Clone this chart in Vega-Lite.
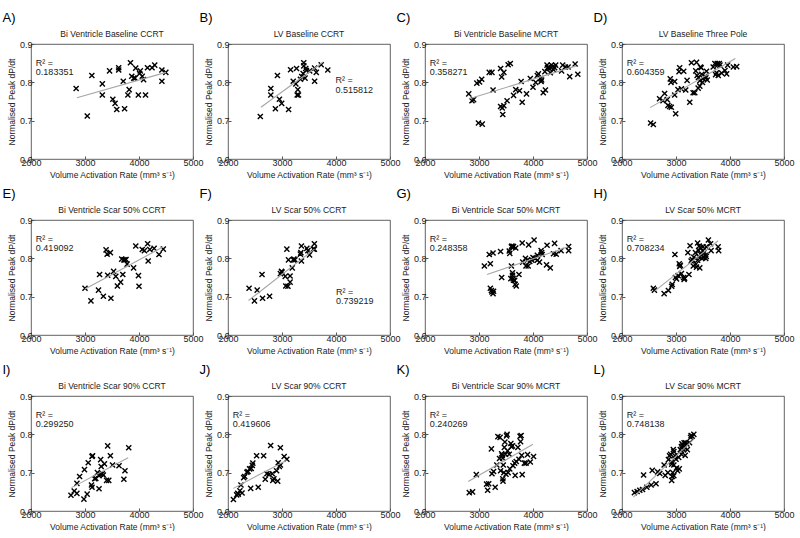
{
"$schema": "https://vega.github.io/schema/vega-lite/v6.json",
"padding": {"left": 2, "top": 11, "right": 0, "bottom": 0},
"columns": 4,
"bounds": "flush",
"spacing": {"row": 61, "column": 35},
"datasets": {
"info": [
{"p":"A","name":"Bi Ventricle Baseline CCRT","r2":"R² =\n0.183351"},
{"p":"B","name":"LV Baseline CCRT","r2":"R² =\n0.515812"},
{"p":"C","name":"Bi Ventricle Baseline MCRT","r2":"R² =\n0.358271"},
{"p":"D","name":"LV Baseline Three Pole","r2":"R² =\n0.604359"},
{"p":"E","name":"Bi Ventricle Scar 50% CCRT","r2":"R² =\n0.419092"},
{"p":"F","name":"LV Scar 50% CCRT","r2":"R² =\n0.739219"},
{"p":"G","name":"Bi Ventricle Scar 50% MCRT","r2":"R² =\n0.248358"},
{"p":"H","name":"LV Scar 50% MCRT","r2":"R² =\n0.708234"},
{"p":"I","name":"Bi Ventricle Scar 90% CCRT","r2":"R² =\n0.299250"},
{"p":"J","name":"LV Scar 90% CCRT","r2":"R² =\n0.419606"},
{"p":"K","name":"Bi Ventricle Scar 90% MCRT","r2":"R² =\n0.240269"},
{"p":"L","name":"LV Scar 90% MCRT","r2":"R² =\n0.748138"}
],
"fit": [
{"p":"A","x":2850,"y":0.760},{"p":"A","x":4500,"y":0.826},
{"p":"B","x":2610,"y":0.735},{"p":"B","x":3760,"y":0.853},
{"p":"C","x":2820,"y":0.757},{"p":"C","x":4800,"y":0.843},
{"p":"D","x":2520,"y":0.734},{"p":"D","x":4100,"y":0.862},
{"p":"E","x":3000,"y":0.720},{"p":"E","x":4450,"y":0.830},
{"p":"F","x":2380,"y":0.690},{"p":"F","x":3600,"y":0.824},
{"p":"G","x":3150,"y":0.758},{"p":"G","x":4650,"y":0.830},
{"p":"H","x":2610,"y":0.715},{"p":"H","x":3780,"y":0.846},
{"p":"I","x":2750,"y":0.661},{"p":"I","x":3800,"y":0.739},
{"p":"J","x":2100,"y":0.659},{"p":"J","x":3080,"y":0.732},
{"p":"K","x":2800,"y":0.677},{"p":"K","x":4000,"y":0.774},
{"p":"L","x":2210,"y":0.636},{"p":"L","x":3320,"y":0.786}
],
"A": [
{"x":2836,"y":0.784},{"x":3127,"y":0.818},{"x":3321,"y":0.796},{"x":3321,"y":0.767},{"x":3455,"y":0.830},{"x":3042,"y":0.712},{"x":3515,"y":0.756},{"x":3557,"y":0.745},{"x":3588,"y":0.729},{"x":3624,"y":0.838},{"x":3624,"y":0.832},{"x":3709,"y":0.803},{"x":3733,"y":0.731},{"x":3794,"y":0.767},{"x":3818,"y":0.781},{"x":3842,"y":0.851},{"x":3866,"y":0.816},{"x":3903,"y":0.811},{"x":3927,"y":0.811},{"x":3939,"y":0.837},{"x":3988,"y":0.767},{"x":4012,"y":0.823},{"x":4024,"y":0.830},{"x":4060,"y":0.816},{"x":4085,"y":0.807},{"x":4121,"y":0.767},{"x":4157,"y":0.838},{"x":4242,"y":0.838},{"x":4291,"y":0.845},{"x":4424,"y":0.832},{"x":4424,"y":0.803},{"x":4497,"y":0.826}
],
"B": [
{"x":2598,"y":0.711},{"x":2793,"y":0.784},{"x":2793,"y":0.767},{"x":2878,"y":0.731},{"x":2915,"y":0.818},{"x":2952,"y":0.756},{"x":2994,"y":0.745},{"x":3122,"y":0.729},{"x":3159,"y":0.833},{"x":3208,"y":0.803},{"x":3257,"y":0.796},{"x":3269,"y":0.836},{"x":3281,"y":0.767},{"x":3305,"y":0.767},{"x":3293,"y":0.781},{"x":3342,"y":0.808},{"x":3366,"y":0.815},{"x":3391,"y":0.823},{"x":3403,"y":0.851},{"x":3403,"y":0.843},{"x":3427,"y":0.811},{"x":3440,"y":0.836},{"x":3452,"y":0.831},{"x":3513,"y":0.830},{"x":3604,"y":0.837},{"x":3604,"y":0.803},{"x":3635,"y":0.826},{"x":3726,"y":0.846},{"x":3848,"y":0.832}
],
"C": [
{"x":2810,"y":0.770},{"x":2870,"y":0.752},{"x":2900,"y":0.755},{"x":2960,"y":0.798},{"x":3010,"y":0.801},{"x":3050,"y":0.808},{"x":2990,"y":0.694},{"x":3060,"y":0.691},{"x":3190,"y":0.826},{"x":3240,"y":0.826},{"x":3260,"y":0.780},{"x":3400,"y":0.836},{"x":3420,"y":0.814},{"x":3460,"y":0.826},{"x":3400,"y":0.737},{"x":3430,"y":0.733},{"x":3460,"y":0.739},{"x":3440,"y":0.716},{"x":3520,"y":0.752},{"x":3540,"y":0.846},{"x":3580,"y":0.849},{"x":3640,"y":0.766},{"x":3680,"y":0.781},{"x":3750,"y":0.778},{"x":3780,"y":0.802},{"x":3800,"y":0.748},{"x":3880,"y":0.770},{"x":3950,"y":0.810},{"x":4000,"y":0.787},{"x":4050,"y":0.800},{"x":4080,"y":0.818},{"x":4100,"y":0.822},{"x":4140,"y":0.810},{"x":4160,"y":0.806},{"x":4150,"y":0.802},{"x":4190,"y":0.773},{"x":4230,"y":0.780},{"x":4220,"y":0.828},{"x":4260,"y":0.845},{"x":4270,"y":0.838},{"x":4290,"y":0.840},{"x":4320,"y":0.825},{"x":4340,"y":0.845},{"x":4370,"y":0.842},{"x":4380,"y":0.833},{"x":4400,"y":0.838},{"x":4420,"y":0.845},{"x":4300,"y":0.836},{"x":4530,"y":0.830},{"x":4550,"y":0.845},{"x":4600,"y":0.840},{"x":4650,"y":0.840},{"x":4680,"y":0.815},{"x":4780,"y":0.848},{"x":4830,"y":0.821}
],
"D": [
{"x":2530,"y":0.694},{"x":2580,"y":0.690},{"x":2696,"y":0.757},{"x":2758,"y":0.752},{"x":2789,"y":0.771},{"x":2838,"y":0.755},{"x":2851,"y":0.740},{"x":2882,"y":0.737},{"x":2894,"y":0.809},{"x":2907,"y":0.800},{"x":2913,"y":0.735},{"x":2975,"y":0.802},{"x":2975,"y":0.767},{"x":2994,"y":0.718},{"x":3037,"y":0.781},{"x":3056,"y":0.828},{"x":3068,"y":0.838},{"x":3100,"y":0.783},{"x":3143,"y":0.829},{"x":3180,"y":0.780},{"x":3205,"y":0.805},{"x":3255,"y":0.748},{"x":3286,"y":0.851},{"x":3317,"y":0.773},{"x":3348,"y":0.773},{"x":3366,"y":0.830},{"x":3380,"y":0.852},{"x":3391,"y":0.818},{"x":3410,"y":0.785},{"x":3416,"y":0.813},{"x":3441,"y":0.804},{"x":3441,"y":0.790},{"x":3453,"y":0.840},{"x":3466,"y":0.838},{"x":3478,"y":0.821},{"x":3490,"y":0.800},{"x":3503,"y":0.810},{"x":3540,"y":0.816},{"x":3553,"y":0.812},{"x":3565,"y":0.829},{"x":3578,"y":0.806},{"x":3689,"y":0.840},{"x":3720,"y":0.849},{"x":3733,"y":0.820},{"x":3751,"y":0.825},{"x":3764,"y":0.849},{"x":3770,"y":0.845},{"x":3782,"y":0.818},{"x":3801,"y":0.849},{"x":3814,"y":0.845},{"x":3845,"y":0.824},{"x":3907,"y":0.831},{"x":3938,"y":0.822},{"x":3957,"y":0.845},{"x":4062,"y":0.840},{"x":4124,"y":0.841}
],
"E": [
{"x":3000,"y":0.722},{"x":3110,"y":0.689},{"x":3250,"y":0.717},{"x":3270,"y":0.758},{"x":3340,"y":0.701},{"x":3390,"y":0.822},{"x":3410,"y":0.811},{"x":3420,"y":0.756},{"x":3470,"y":0.815},{"x":3480,"y":0.696},{"x":3530,"y":0.766},{"x":3570,"y":0.753},{"x":3600,"y":0.728},{"x":3660,"y":0.738},{"x":3680,"y":0.798},{"x":3700,"y":0.758},{"x":3720,"y":0.796},{"x":3740,"y":0.796},{"x":3760,"y":0.797},{"x":3780,"y":0.785},{"x":3900,"y":0.775},{"x":3940,"y":0.832},{"x":3990,"y":0.755},{"x":4000,"y":0.727},{"x":4060,"y":0.823},{"x":4100,"y":0.820},{"x":4160,"y":0.838},{"x":4170,"y":0.793},{"x":4200,"y":0.823},{"x":4280,"y":0.826},{"x":4370,"y":0.810},{"x":4450,"y":0.824}
],
"F": [
{"x":2390,"y":0.722},{"x":2490,"y":0.689},{"x":2540,"y":0.717},{"x":2630,"y":0.758},{"x":2640,"y":0.696},{"x":2770,"y":0.701},{"x":2970,"y":0.760},{"x":2990,"y":0.766},{"x":3000,"y":0.764},{"x":3060,"y":0.753},{"x":3070,"y":0.728},{"x":3090,"y":0.824},{"x":3110,"y":0.727},{"x":3120,"y":0.796},{"x":3150,"y":0.754},{"x":3150,"y":0.738},{"x":3190,"y":0.775},{"x":3210,"y":0.796},{"x":3220,"y":0.798},{"x":3240,"y":0.796},{"x":3340,"y":0.811},{"x":3350,"y":0.815},{"x":3360,"y":0.832},{"x":3360,"y":0.793},{"x":3460,"y":0.826},{"x":3480,"y":0.820},{"x":3510,"y":0.809},{"x":3580,"y":0.824},{"x":3600,"y":0.838},{"x":3600,"y":0.824}
],
"G": [
{"x":3100,"y":0.780},{"x":3190,"y":0.810},{"x":3210,"y":0.786},{"x":3260,"y":0.814},{"x":3210,"y":0.722},{"x":3230,"y":0.716},{"x":3240,"y":0.712},{"x":3260,"y":0.708},{"x":3270,"y":0.714},{"x":3420,"y":0.750},{"x":3400,"y":0.818},{"x":3560,"y":0.819},{"x":3570,"y":0.813},{"x":3600,"y":0.830},{"x":3610,"y":0.832},{"x":3630,"y":0.830},{"x":3640,"y":0.831},{"x":3600,"y":0.780},{"x":3590,"y":0.747},{"x":3620,"y":0.762},{"x":3620,"y":0.756},{"x":3630,"y":0.747},{"x":3640,"y":0.743},{"x":3660,"y":0.742},{"x":3670,"y":0.732},{"x":3690,"y":0.728},{"x":3680,"y":0.827},{"x":3740,"y":0.758},{"x":3800,"y":0.840},{"x":3810,"y":0.790},{"x":3860,"y":0.800},{"x":3870,"y":0.780},{"x":3900,"y":0.796},{"x":3910,"y":0.780},{"x":3920,"y":0.835},{"x":3940,"y":0.792},{"x":3980,"y":0.795},{"x":4000,"y":0.802},{"x":4020,"y":0.848},{"x":4040,"y":0.800},{"x":4080,"y":0.808},{"x":4080,"y":0.795},{"x":4120,"y":0.790},{"x":4150,"y":0.820},{"x":4160,"y":0.815},{"x":4170,"y":0.810},{"x":4250,"y":0.783},{"x":4260,"y":0.834},{"x":4320,"y":0.775},{"x":4380,"y":0.812},{"x":4400,"y":0.839},{"x":4430,"y":0.811},{"x":4520,"y":0.820},{"x":4660,"y":0.831},{"x":4660,"y":0.820}
],
"H": [
{"x":2580,"y":0.722},{"x":2600,"y":0.717},{"x":2780,"y":0.708},{"x":2860,"y":0.716},{"x":2920,"y":0.727},{"x":2930,"y":0.732},{"x":2980,"y":0.810},{"x":2990,"y":0.750},{"x":3010,"y":0.746},{"x":3040,"y":0.755},{"x":3060,"y":0.786},{"x":3070,"y":0.779},{"x":3080,"y":0.782},{"x":3100,"y":0.760},{"x":3140,"y":0.750},{"x":3150,"y":0.745},{"x":3160,"y":0.748},{"x":3220,"y":0.815},{"x":3240,"y":0.758},{"x":3260,"y":0.833},{"x":3280,"y":0.793},{"x":3300,"y":0.797},{"x":3320,"y":0.780},{"x":3330,"y":0.803},{"x":3360,"y":0.815},{"x":3370,"y":0.785},{"x":3380,"y":0.777},{"x":3400,"y":0.840},{"x":3400,"y":0.795},{"x":3420,"y":0.820},{"x":3430,"y":0.832},{"x":3440,"y":0.775},{"x":3450,"y":0.828},{"x":3460,"y":0.810},{"x":3480,"y":0.800},{"x":3500,"y":0.820},{"x":3500,"y":0.830},{"x":3510,"y":0.802},{"x":3520,"y":0.815},{"x":3540,"y":0.808},{"x":3550,"y":0.800},{"x":3560,"y":0.805},{"x":3600,"y":0.848},{"x":3640,"y":0.838},{"x":3650,"y":0.820},{"x":3780,"y":0.830},{"x":3790,"y":0.820},{"x":3560,"y":0.830},{"x":3420,"y":0.805}
],
"I": [
{"x":2740,"y":0.641},{"x":2800,"y":0.652},{"x":2850,"y":0.672},{"x":2850,"y":0.646},{"x":2900,"y":0.690},{"x":2980,"y":0.631},{"x":2990,"y":0.708},{"x":3040,"y":0.644},{"x":3060,"y":0.726},{"x":3120,"y":0.668},{"x":3130,"y":0.662},{"x":3130,"y":0.742},{"x":3140,"y":0.744},{"x":3180,"y":0.684},{"x":3200,"y":0.685},{"x":3230,"y":0.700},{"x":3260,"y":0.692},{"x":3260,"y":0.658},{"x":3290,"y":0.734},{"x":3290,"y":0.696},{"x":3300,"y":0.716},{"x":3320,"y":0.697},{"x":3340,"y":0.694},{"x":3360,"y":0.723},{"x":3400,"y":0.680},{"x":3420,"y":0.770},{"x":3440,"y":0.680},{"x":3470,"y":0.744},{"x":3510,"y":0.720},{"x":3630,"y":0.718},{"x":3720,"y":0.683},{"x":3740,"y":0.705},{"x":3810,"y":0.765}
],
"J": [
{"x":2100,"y":0.630},{"x":2160,"y":0.642},{"x":2180,"y":0.646},{"x":2190,"y":0.644},{"x":2220,"y":0.653},{"x":2240,"y":0.668},{"x":2260,"y":0.647},{"x":2290,"y":0.687},{"x":2310,"y":0.690},{"x":2350,"y":0.701},{"x":2370,"y":0.703},{"x":2400,"y":0.710},{"x":2420,"y":0.659},{"x":2430,"y":0.711},{"x":2450,"y":0.719},{"x":2460,"y":0.725},{"x":2530,"y":0.744},{"x":2560,"y":0.662},{"x":2660,"y":0.744},{"x":2690,"y":0.683},{"x":2720,"y":0.697},{"x":2760,"y":0.696},{"x":2790,"y":0.771},{"x":2820,"y":0.697},{"x":2830,"y":0.680},{"x":2850,"y":0.684},{"x":2900,"y":0.705},{"x":2920,"y":0.678},{"x":2930,"y":0.726},{"x":2950,"y":0.716},{"x":2970,"y":0.720},{"x":2970,"y":0.765},{"x":3040,"y":0.742},{"x":3090,"y":0.735}
],
"K": [
{"x":2820,"y":0.648},{"x":2880,"y":0.650},{"x":2950,"y":0.695},{"x":3140,"y":0.670},{"x":3160,"y":0.654},{"x":3180,"y":0.671},{"x":3230,"y":0.762},{"x":3240,"y":0.697},{"x":3270,"y":0.703},{"x":3300,"y":0.662},{"x":3330,"y":0.720},{"x":3350,"y":0.794},{"x":3380,"y":0.737},{"x":3390,"y":0.792},{"x":3400,"y":0.705},{"x":3420,"y":0.749},{"x":3430,"y":0.745},{"x":3440,"y":0.684},{"x":3445,"y":0.678},{"x":3440,"y":0.738},{"x":3450,"y":0.720},{"x":3460,"y":0.700},{"x":3470,"y":0.766},{"x":3480,"y":0.780},{"x":3490,"y":0.748},{"x":3500,"y":0.696},{"x":3510,"y":0.796},{"x":3520,"y":0.800},{"x":3530,"y":0.757},{"x":3540,"y":0.700},{"x":3560,"y":0.748},{"x":3570,"y":0.710},{"x":3590,"y":0.776},{"x":3600,"y":0.768},{"x":3620,"y":0.770},{"x":3630,"y":0.718},{"x":3660,"y":0.725},{"x":3670,"y":0.693},{"x":3690,"y":0.729},{"x":3720,"y":0.766},{"x":3740,"y":0.735},{"x":3760,"y":0.795},{"x":3770,"y":0.781},{"x":3780,"y":0.797},{"x":3790,"y":0.745},{"x":3800,"y":0.695},{"x":3840,"y":0.725},{"x":3870,"y":0.725},{"x":3900,"y":0.747},{"x":3950,"y":0.728},{"x":4010,"y":0.742}
],
"L": [
{"x":2230,"y":0.648},{"x":2280,"y":0.651},{"x":2330,"y":0.654},{"x":2380,"y":0.656},{"x":2400,"y":0.694},{"x":2460,"y":0.662},{"x":2540,"y":0.668},{"x":2560,"y":0.706},{"x":2630,"y":0.671},{"x":2660,"y":0.702},{"x":2700,"y":0.698},{"x":2780,"y":0.720},{"x":2800,"y":0.693},{"x":2850,"y":0.700},{"x":2860,"y":0.734},{"x":2880,"y":0.744},{"x":2900,"y":0.748},{"x":2920,"y":0.728},{"x":2920,"y":0.680},{"x":2930,"y":0.690},{"x":2940,"y":0.700},{"x":2950,"y":0.760},{"x":2960,"y":0.720},{"x":2960,"y":0.692},{"x":2980,"y":0.744},{"x":3000,"y":0.735},{"x":3010,"y":0.712},{"x":3030,"y":0.705},{"x":3050,"y":0.740},{"x":3060,"y":0.710},{"x":3080,"y":0.760},{"x":3100,"y":0.768},{"x":3100,"y":0.748},{"x":3110,"y":0.775},{"x":3130,"y":0.770},{"x":3140,"y":0.760},{"x":3150,"y":0.778},{"x":3160,"y":0.765},{"x":3170,"y":0.745},{"x":3180,"y":0.778},{"x":3200,"y":0.775},{"x":3210,"y":0.760},{"x":3250,"y":0.778},{"x":3270,"y":0.792},{"x":3280,"y":0.797},{"x":3300,"y":0.795},{"x":3330,"y":0.800},{"x":2960,"y":0.755},{"x":2920,"y":0.722}
]
},
"concat": [
{"title":{"text":"A)"},"width":162,"height":115,"layer":[
 {"data":{"name":"A"},"mark":{"type":"point","shape":"M-1,-1L1,1M-1,1L1,-1","filled":false,"color":"black","strokeWidth":1.4,"size":26,"opacity":1},"encoding":{"x":{"field":"x","type":"quantitative","scale":{"domain":[2000,5000],"nice":false},"axis":{"values":[2000,3000,4000,5000],"format":"d","title":"Volume Activation Rate (mm³ s⁻¹)"}},"y":{"field":"y","type":"quantitative","scale":{"domain":[0.6,0.9],"nice":false,"zero":false},"axis":{"values":[0.6,0.7,0.8,0.9],"format":".1f","title":"Normalised Peak dP/dt"}}}},
 {"data":{"name":"fit"},"transform":[{"filter":"datum.p==='A'"}],"mark":{"type":"line","color":"#a6a6a6","strokeWidth":1.1},"encoding":{"x":{"field":"x","type":"quantitative","scale":{"domain":[2000,5000],"nice":false},"axis":{"values":[2000,3000,4000,5000],"format":"d","title":"Volume Activation Rate (mm³ s⁻¹)"}},"y":{"field":"y","type":"quantitative","scale":{"domain":[0.6,0.9],"nice":false,"zero":false},"axis":{"values":[0.6,0.7,0.8,0.9],"format":".1f","title":"Normalised Peak dP/dt"}}}},
 {"data":{"name":"info"},"transform":[{"filter":"datum.p==='A'"}],"mark":{"type":"text","align":"left","baseline":"middle","lineBreak":"\n","lineHeight":9.5,"fontSize":9,"color":"#222"},"encoding":{"x":{"datum":2090,"type":"quantitative","scale":{"domain":[2000,5000],"nice":false},"axis":{"values":[2000,3000,4000,5000],"format":"d","title":"Volume Activation Rate (mm³ s⁻¹)"}},"y":{"datum":0.851,"type":"quantitative","scale":{"domain":[0.6,0.9],"nice":false,"zero":false},"axis":{"values":[0.6,0.7,0.8,0.9],"format":".1f","title":"Normalised Peak dP/dt"}},"text":{"field":"r2","type":"nominal"}}},
 {"data":{"name":"info"},"transform":[{"filter":"datum.p==='A'"}],"mark":{"type":"text","align":"center","baseline":"middle","dy":-10,"fontSize":8.5,"color":"#222"},"encoding":{"x":{"datum":3500,"type":"quantitative","scale":{"domain":[2000,5000],"nice":false},"axis":{"values":[2000,3000,4000,5000],"format":"d","title":"Volume Activation Rate (mm³ s⁻¹)"}},"y":{"datum":0.9,"type":"quantitative","scale":{"domain":[0.6,0.9],"nice":false,"zero":false},"axis":{"values":[0.6,0.7,0.8,0.9],"format":".1f","title":"Normalised Peak dP/dt"}},"text":{"field":"name","type":"nominal"}}}
]},
{"title":{"text":"B)"},"width":162,"height":115,"layer":[
 {"data":{"name":"B"},"mark":{"type":"point","shape":"M-1,-1L1,1M-1,1L1,-1","filled":false,"color":"black","strokeWidth":1.4,"size":26,"opacity":1},"encoding":{"x":{"field":"x","type":"quantitative","scale":{"domain":[2000,5000],"nice":false},"axis":{"values":[2000,3000,4000,5000],"format":"d","title":"Volume Activation Rate (mm³ s⁻¹)"}},"y":{"field":"y","type":"quantitative","scale":{"domain":[0.6,0.9],"nice":false,"zero":false},"axis":{"values":[0.6,0.7,0.8,0.9],"format":".1f","title":"Normalised Peak dP/dt"}}}},
 {"data":{"name":"fit"},"transform":[{"filter":"datum.p==='B'"}],"mark":{"type":"line","color":"#a6a6a6","strokeWidth":1.1},"encoding":{"x":{"field":"x","type":"quantitative","scale":{"domain":[2000,5000],"nice":false},"axis":{"values":[2000,3000,4000,5000],"format":"d","title":"Volume Activation Rate (mm³ s⁻¹)"}},"y":{"field":"y","type":"quantitative","scale":{"domain":[0.6,0.9],"nice":false,"zero":false},"axis":{"values":[0.6,0.7,0.8,0.9],"format":".1f","title":"Normalised Peak dP/dt"}}}},
 {"data":{"name":"info"},"transform":[{"filter":"datum.p==='B'"}],"mark":{"type":"text","align":"left","baseline":"middle","lineBreak":"\n","lineHeight":9.5,"fontSize":9,"color":"#222"},"encoding":{"x":{"datum":3990,"type":"quantitative","scale":{"domain":[2000,5000],"nice":false},"axis":{"values":[2000,3000,4000,5000],"format":"d","title":"Volume Activation Rate (mm³ s⁻¹)"}},"y":{"datum":0.806,"type":"quantitative","scale":{"domain":[0.6,0.9],"nice":false,"zero":false},"axis":{"values":[0.6,0.7,0.8,0.9],"format":".1f","title":"Normalised Peak dP/dt"}},"text":{"field":"r2","type":"nominal"}}},
 {"data":{"name":"info"},"transform":[{"filter":"datum.p==='B'"}],"mark":{"type":"text","align":"center","baseline":"middle","dy":-10,"fontSize":8.5,"color":"#222"},"encoding":{"x":{"datum":3500,"type":"quantitative","scale":{"domain":[2000,5000],"nice":false},"axis":{"values":[2000,3000,4000,5000],"format":"d","title":"Volume Activation Rate (mm³ s⁻¹)"}},"y":{"datum":0.9,"type":"quantitative","scale":{"domain":[0.6,0.9],"nice":false,"zero":false},"axis":{"values":[0.6,0.7,0.8,0.9],"format":".1f","title":"Normalised Peak dP/dt"}},"text":{"field":"name","type":"nominal"}}}
]},
{"title":{"text":"C)"},"width":162,"height":115,"layer":[
 {"data":{"name":"C"},"mark":{"type":"point","shape":"M-1,-1L1,1M-1,1L1,-1","filled":false,"color":"black","strokeWidth":1.4,"size":26,"opacity":1},"encoding":{"x":{"field":"x","type":"quantitative","scale":{"domain":[2000,5000],"nice":false},"axis":{"values":[2000,3000,4000,5000],"format":"d","title":"Volume Activation Rate (mm³ s⁻¹)"}},"y":{"field":"y","type":"quantitative","scale":{"domain":[0.6,0.9],"nice":false,"zero":false},"axis":{"values":[0.6,0.7,0.8,0.9],"format":".1f","title":"Normalised Peak dP/dt"}}}},
 {"data":{"name":"fit"},"transform":[{"filter":"datum.p==='C'"}],"mark":{"type":"line","color":"#a6a6a6","strokeWidth":1.1},"encoding":{"x":{"field":"x","type":"quantitative","scale":{"domain":[2000,5000],"nice":false},"axis":{"values":[2000,3000,4000,5000],"format":"d","title":"Volume Activation Rate (mm³ s⁻¹)"}},"y":{"field":"y","type":"quantitative","scale":{"domain":[0.6,0.9],"nice":false,"zero":false},"axis":{"values":[0.6,0.7,0.8,0.9],"format":".1f","title":"Normalised Peak dP/dt"}}}},
 {"data":{"name":"info"},"transform":[{"filter":"datum.p==='C'"}],"mark":{"type":"text","align":"left","baseline":"middle","lineBreak":"\n","lineHeight":9.5,"fontSize":9,"color":"#222"},"encoding":{"x":{"datum":2090,"type":"quantitative","scale":{"domain":[2000,5000],"nice":false},"axis":{"values":[2000,3000,4000,5000],"format":"d","title":"Volume Activation Rate (mm³ s⁻¹)"}},"y":{"datum":0.851,"type":"quantitative","scale":{"domain":[0.6,0.9],"nice":false,"zero":false},"axis":{"values":[0.6,0.7,0.8,0.9],"format":".1f","title":"Normalised Peak dP/dt"}},"text":{"field":"r2","type":"nominal"}}},
 {"data":{"name":"info"},"transform":[{"filter":"datum.p==='C'"}],"mark":{"type":"text","align":"center","baseline":"middle","dy":-10,"fontSize":8.5,"color":"#222"},"encoding":{"x":{"datum":3500,"type":"quantitative","scale":{"domain":[2000,5000],"nice":false},"axis":{"values":[2000,3000,4000,5000],"format":"d","title":"Volume Activation Rate (mm³ s⁻¹)"}},"y":{"datum":0.9,"type":"quantitative","scale":{"domain":[0.6,0.9],"nice":false,"zero":false},"axis":{"values":[0.6,0.7,0.8,0.9],"format":".1f","title":"Normalised Peak dP/dt"}},"text":{"field":"name","type":"nominal"}}}
]},
{"title":{"text":"D)"},"width":162,"height":115,"layer":[
 {"data":{"name":"D"},"mark":{"type":"point","shape":"M-1,-1L1,1M-1,1L1,-1","filled":false,"color":"black","strokeWidth":1.4,"size":26,"opacity":1},"encoding":{"x":{"field":"x","type":"quantitative","scale":{"domain":[2000,5000],"nice":false},"axis":{"values":[2000,3000,4000,5000],"format":"d","title":"Volume Activation Rate (mm³ s⁻¹)"}},"y":{"field":"y","type":"quantitative","scale":{"domain":[0.6,0.9],"nice":false,"zero":false},"axis":{"values":[0.6,0.7,0.8,0.9],"format":".1f","title":"Normalised Peak dP/dt"}}}},
 {"data":{"name":"fit"},"transform":[{"filter":"datum.p==='D'"}],"mark":{"type":"line","color":"#a6a6a6","strokeWidth":1.1},"encoding":{"x":{"field":"x","type":"quantitative","scale":{"domain":[2000,5000],"nice":false},"axis":{"values":[2000,3000,4000,5000],"format":"d","title":"Volume Activation Rate (mm³ s⁻¹)"}},"y":{"field":"y","type":"quantitative","scale":{"domain":[0.6,0.9],"nice":false,"zero":false},"axis":{"values":[0.6,0.7,0.8,0.9],"format":".1f","title":"Normalised Peak dP/dt"}}}},
 {"data":{"name":"info"},"transform":[{"filter":"datum.p==='D'"}],"mark":{"type":"text","align":"left","baseline":"middle","lineBreak":"\n","lineHeight":9.5,"fontSize":9,"color":"#222"},"encoding":{"x":{"datum":2090,"type":"quantitative","scale":{"domain":[2000,5000],"nice":false},"axis":{"values":[2000,3000,4000,5000],"format":"d","title":"Volume Activation Rate (mm³ s⁻¹)"}},"y":{"datum":0.851,"type":"quantitative","scale":{"domain":[0.6,0.9],"nice":false,"zero":false},"axis":{"values":[0.6,0.7,0.8,0.9],"format":".1f","title":"Normalised Peak dP/dt"}},"text":{"field":"r2","type":"nominal"}}},
 {"data":{"name":"info"},"transform":[{"filter":"datum.p==='D'"}],"mark":{"type":"text","align":"center","baseline":"middle","dy":-10,"fontSize":8.5,"color":"#222"},"encoding":{"x":{"datum":3500,"type":"quantitative","scale":{"domain":[2000,5000],"nice":false},"axis":{"values":[2000,3000,4000,5000],"format":"d","title":"Volume Activation Rate (mm³ s⁻¹)"}},"y":{"datum":0.9,"type":"quantitative","scale":{"domain":[0.6,0.9],"nice":false,"zero":false},"axis":{"values":[0.6,0.7,0.8,0.9],"format":".1f","title":"Normalised Peak dP/dt"}},"text":{"field":"name","type":"nominal"}}}
]},
{"title":{"text":"E)"},"width":162,"height":115,"layer":[
 {"data":{"name":"E"},"mark":{"type":"point","shape":"M-1,-1L1,1M-1,1L1,-1","filled":false,"color":"black","strokeWidth":1.4,"size":26,"opacity":1},"encoding":{"x":{"field":"x","type":"quantitative","scale":{"domain":[2000,5000],"nice":false},"axis":{"values":[2000,3000,4000,5000],"format":"d","title":"Volume Activation Rate (mm³ s⁻¹)"}},"y":{"field":"y","type":"quantitative","scale":{"domain":[0.6,0.9],"nice":false,"zero":false},"axis":{"values":[0.6,0.7,0.8,0.9],"format":".1f","title":"Normalised Peak dP/dt"}}}},
 {"data":{"name":"fit"},"transform":[{"filter":"datum.p==='E'"}],"mark":{"type":"line","color":"#a6a6a6","strokeWidth":1.1},"encoding":{"x":{"field":"x","type":"quantitative","scale":{"domain":[2000,5000],"nice":false},"axis":{"values":[2000,3000,4000,5000],"format":"d","title":"Volume Activation Rate (mm³ s⁻¹)"}},"y":{"field":"y","type":"quantitative","scale":{"domain":[0.6,0.9],"nice":false,"zero":false},"axis":{"values":[0.6,0.7,0.8,0.9],"format":".1f","title":"Normalised Peak dP/dt"}}}},
 {"data":{"name":"info"},"transform":[{"filter":"datum.p==='E'"}],"mark":{"type":"text","align":"left","baseline":"middle","lineBreak":"\n","lineHeight":9.5,"fontSize":9,"color":"#222"},"encoding":{"x":{"datum":2090,"type":"quantitative","scale":{"domain":[2000,5000],"nice":false},"axis":{"values":[2000,3000,4000,5000],"format":"d","title":"Volume Activation Rate (mm³ s⁻¹)"}},"y":{"datum":0.851,"type":"quantitative","scale":{"domain":[0.6,0.9],"nice":false,"zero":false},"axis":{"values":[0.6,0.7,0.8,0.9],"format":".1f","title":"Normalised Peak dP/dt"}},"text":{"field":"r2","type":"nominal"}}},
 {"data":{"name":"info"},"transform":[{"filter":"datum.p==='E'"}],"mark":{"type":"text","align":"center","baseline":"middle","dy":-10,"fontSize":8.5,"color":"#222"},"encoding":{"x":{"datum":3500,"type":"quantitative","scale":{"domain":[2000,5000],"nice":false},"axis":{"values":[2000,3000,4000,5000],"format":"d","title":"Volume Activation Rate (mm³ s⁻¹)"}},"y":{"datum":0.9,"type":"quantitative","scale":{"domain":[0.6,0.9],"nice":false,"zero":false},"axis":{"values":[0.6,0.7,0.8,0.9],"format":".1f","title":"Normalised Peak dP/dt"}},"text":{"field":"name","type":"nominal"}}}
]},
{"title":{"text":"F)"},"width":162,"height":115,"layer":[
 {"data":{"name":"F"},"mark":{"type":"point","shape":"M-1,-1L1,1M-1,1L1,-1","filled":false,"color":"black","strokeWidth":1.4,"size":26,"opacity":1},"encoding":{"x":{"field":"x","type":"quantitative","scale":{"domain":[2000,5000],"nice":false},"axis":{"values":[2000,3000,4000,5000],"format":"d","title":"Volume Activation Rate (mm³ s⁻¹)"}},"y":{"field":"y","type":"quantitative","scale":{"domain":[0.6,0.9],"nice":false,"zero":false},"axis":{"values":[0.6,0.7,0.8,0.9],"format":".1f","title":"Normalised Peak dP/dt"}}}},
 {"data":{"name":"fit"},"transform":[{"filter":"datum.p==='F'"}],"mark":{"type":"line","color":"#a6a6a6","strokeWidth":1.1},"encoding":{"x":{"field":"x","type":"quantitative","scale":{"domain":[2000,5000],"nice":false},"axis":{"values":[2000,3000,4000,5000],"format":"d","title":"Volume Activation Rate (mm³ s⁻¹)"}},"y":{"field":"y","type":"quantitative","scale":{"domain":[0.6,0.9],"nice":false,"zero":false},"axis":{"values":[0.6,0.7,0.8,0.9],"format":".1f","title":"Normalised Peak dP/dt"}}}},
 {"data":{"name":"info"},"transform":[{"filter":"datum.p==='F'"}],"mark":{"type":"text","align":"left","baseline":"middle","lineBreak":"\n","lineHeight":9.5,"fontSize":9,"color":"#222"},"encoding":{"x":{"datum":4000,"type":"quantitative","scale":{"domain":[2000,5000],"nice":false},"axis":{"values":[2000,3000,4000,5000],"format":"d","title":"Volume Activation Rate (mm³ s⁻¹)"}},"y":{"datum":0.713,"type":"quantitative","scale":{"domain":[0.6,0.9],"nice":false,"zero":false},"axis":{"values":[0.6,0.7,0.8,0.9],"format":".1f","title":"Normalised Peak dP/dt"}},"text":{"field":"r2","type":"nominal"}}},
 {"data":{"name":"info"},"transform":[{"filter":"datum.p==='F'"}],"mark":{"type":"text","align":"center","baseline":"middle","dy":-10,"fontSize":8.5,"color":"#222"},"encoding":{"x":{"datum":3500,"type":"quantitative","scale":{"domain":[2000,5000],"nice":false},"axis":{"values":[2000,3000,4000,5000],"format":"d","title":"Volume Activation Rate (mm³ s⁻¹)"}},"y":{"datum":0.9,"type":"quantitative","scale":{"domain":[0.6,0.9],"nice":false,"zero":false},"axis":{"values":[0.6,0.7,0.8,0.9],"format":".1f","title":"Normalised Peak dP/dt"}},"text":{"field":"name","type":"nominal"}}}
]},
{"title":{"text":"G)"},"width":162,"height":115,"layer":[
 {"data":{"name":"G"},"mark":{"type":"point","shape":"M-1,-1L1,1M-1,1L1,-1","filled":false,"color":"black","strokeWidth":1.4,"size":26,"opacity":1},"encoding":{"x":{"field":"x","type":"quantitative","scale":{"domain":[2000,5000],"nice":false},"axis":{"values":[2000,3000,4000,5000],"format":"d","title":"Volume Activation Rate (mm³ s⁻¹)"}},"y":{"field":"y","type":"quantitative","scale":{"domain":[0.6,0.9],"nice":false,"zero":false},"axis":{"values":[0.6,0.7,0.8,0.9],"format":".1f","title":"Normalised Peak dP/dt"}}}},
 {"data":{"name":"fit"},"transform":[{"filter":"datum.p==='G'"}],"mark":{"type":"line","color":"#a6a6a6","strokeWidth":1.1},"encoding":{"x":{"field":"x","type":"quantitative","scale":{"domain":[2000,5000],"nice":false},"axis":{"values":[2000,3000,4000,5000],"format":"d","title":"Volume Activation Rate (mm³ s⁻¹)"}},"y":{"field":"y","type":"quantitative","scale":{"domain":[0.6,0.9],"nice":false,"zero":false},"axis":{"values":[0.6,0.7,0.8,0.9],"format":".1f","title":"Normalised Peak dP/dt"}}}},
 {"data":{"name":"info"},"transform":[{"filter":"datum.p==='G'"}],"mark":{"type":"text","align":"left","baseline":"middle","lineBreak":"\n","lineHeight":9.5,"fontSize":9,"color":"#222"},"encoding":{"x":{"datum":2090,"type":"quantitative","scale":{"domain":[2000,5000],"nice":false},"axis":{"values":[2000,3000,4000,5000],"format":"d","title":"Volume Activation Rate (mm³ s⁻¹)"}},"y":{"datum":0.851,"type":"quantitative","scale":{"domain":[0.6,0.9],"nice":false,"zero":false},"axis":{"values":[0.6,0.7,0.8,0.9],"format":".1f","title":"Normalised Peak dP/dt"}},"text":{"field":"r2","type":"nominal"}}},
 {"data":{"name":"info"},"transform":[{"filter":"datum.p==='G'"}],"mark":{"type":"text","align":"center","baseline":"middle","dy":-10,"fontSize":8.5,"color":"#222"},"encoding":{"x":{"datum":3500,"type":"quantitative","scale":{"domain":[2000,5000],"nice":false},"axis":{"values":[2000,3000,4000,5000],"format":"d","title":"Volume Activation Rate (mm³ s⁻¹)"}},"y":{"datum":0.9,"type":"quantitative","scale":{"domain":[0.6,0.9],"nice":false,"zero":false},"axis":{"values":[0.6,0.7,0.8,0.9],"format":".1f","title":"Normalised Peak dP/dt"}},"text":{"field":"name","type":"nominal"}}}
]},
{"title":{"text":"H)"},"width":162,"height":115,"layer":[
 {"data":{"name":"H"},"mark":{"type":"point","shape":"M-1,-1L1,1M-1,1L1,-1","filled":false,"color":"black","strokeWidth":1.4,"size":26,"opacity":1},"encoding":{"x":{"field":"x","type":"quantitative","scale":{"domain":[2000,5000],"nice":false},"axis":{"values":[2000,3000,4000,5000],"format":"d","title":"Volume Activation Rate (mm³ s⁻¹)"}},"y":{"field":"y","type":"quantitative","scale":{"domain":[0.6,0.9],"nice":false,"zero":false},"axis":{"values":[0.6,0.7,0.8,0.9],"format":".1f","title":"Normalised Peak dP/dt"}}}},
 {"data":{"name":"fit"},"transform":[{"filter":"datum.p==='H'"}],"mark":{"type":"line","color":"#a6a6a6","strokeWidth":1.1},"encoding":{"x":{"field":"x","type":"quantitative","scale":{"domain":[2000,5000],"nice":false},"axis":{"values":[2000,3000,4000,5000],"format":"d","title":"Volume Activation Rate (mm³ s⁻¹)"}},"y":{"field":"y","type":"quantitative","scale":{"domain":[0.6,0.9],"nice":false,"zero":false},"axis":{"values":[0.6,0.7,0.8,0.9],"format":".1f","title":"Normalised Peak dP/dt"}}}},
 {"data":{"name":"info"},"transform":[{"filter":"datum.p==='H'"}],"mark":{"type":"text","align":"left","baseline":"middle","lineBreak":"\n","lineHeight":9.5,"fontSize":9,"color":"#222"},"encoding":{"x":{"datum":2090,"type":"quantitative","scale":{"domain":[2000,5000],"nice":false},"axis":{"values":[2000,3000,4000,5000],"format":"d","title":"Volume Activation Rate (mm³ s⁻¹)"}},"y":{"datum":0.851,"type":"quantitative","scale":{"domain":[0.6,0.9],"nice":false,"zero":false},"axis":{"values":[0.6,0.7,0.8,0.9],"format":".1f","title":"Normalised Peak dP/dt"}},"text":{"field":"r2","type":"nominal"}}},
 {"data":{"name":"info"},"transform":[{"filter":"datum.p==='H'"}],"mark":{"type":"text","align":"center","baseline":"middle","dy":-10,"fontSize":8.5,"color":"#222"},"encoding":{"x":{"datum":3500,"type":"quantitative","scale":{"domain":[2000,5000],"nice":false},"axis":{"values":[2000,3000,4000,5000],"format":"d","title":"Volume Activation Rate (mm³ s⁻¹)"}},"y":{"datum":0.9,"type":"quantitative","scale":{"domain":[0.6,0.9],"nice":false,"zero":false},"axis":{"values":[0.6,0.7,0.8,0.9],"format":".1f","title":"Normalised Peak dP/dt"}},"text":{"field":"name","type":"nominal"}}}
]},
{"title":{"text":"I)"},"width":162,"height":115,"layer":[
 {"data":{"name":"I"},"mark":{"type":"point","shape":"M-1,-1L1,1M-1,1L1,-1","filled":false,"color":"black","strokeWidth":1.4,"size":26,"opacity":1},"encoding":{"x":{"field":"x","type":"quantitative","scale":{"domain":[2000,5000],"nice":false},"axis":{"values":[2000,3000,4000,5000],"format":"d","title":"Volume Activation Rate (mm³ s⁻¹)"}},"y":{"field":"y","type":"quantitative","scale":{"domain":[0.6,0.9],"nice":false,"zero":false},"axis":{"values":[0.6,0.7,0.8,0.9],"format":".1f","title":"Normalised Peak dP/dt"}}}},
 {"data":{"name":"fit"},"transform":[{"filter":"datum.p==='I'"}],"mark":{"type":"line","color":"#a6a6a6","strokeWidth":1.1},"encoding":{"x":{"field":"x","type":"quantitative","scale":{"domain":[2000,5000],"nice":false},"axis":{"values":[2000,3000,4000,5000],"format":"d","title":"Volume Activation Rate (mm³ s⁻¹)"}},"y":{"field":"y","type":"quantitative","scale":{"domain":[0.6,0.9],"nice":false,"zero":false},"axis":{"values":[0.6,0.7,0.8,0.9],"format":".1f","title":"Normalised Peak dP/dt"}}}},
 {"data":{"name":"info"},"transform":[{"filter":"datum.p==='I'"}],"mark":{"type":"text","align":"left","baseline":"middle","lineBreak":"\n","lineHeight":9.5,"fontSize":9,"color":"#222"},"encoding":{"x":{"datum":2090,"type":"quantitative","scale":{"domain":[2000,5000],"nice":false},"axis":{"values":[2000,3000,4000,5000],"format":"d","title":"Volume Activation Rate (mm³ s⁻¹)"}},"y":{"datum":0.851,"type":"quantitative","scale":{"domain":[0.6,0.9],"nice":false,"zero":false},"axis":{"values":[0.6,0.7,0.8,0.9],"format":".1f","title":"Normalised Peak dP/dt"}},"text":{"field":"r2","type":"nominal"}}},
 {"data":{"name":"info"},"transform":[{"filter":"datum.p==='I'"}],"mark":{"type":"text","align":"center","baseline":"middle","dy":-10,"fontSize":8.5,"color":"#222"},"encoding":{"x":{"datum":3500,"type":"quantitative","scale":{"domain":[2000,5000],"nice":false},"axis":{"values":[2000,3000,4000,5000],"format":"d","title":"Volume Activation Rate (mm³ s⁻¹)"}},"y":{"datum":0.9,"type":"quantitative","scale":{"domain":[0.6,0.9],"nice":false,"zero":false},"axis":{"values":[0.6,0.7,0.8,0.9],"format":".1f","title":"Normalised Peak dP/dt"}},"text":{"field":"name","type":"nominal"}}}
]},
{"title":{"text":"J)"},"width":162,"height":115,"layer":[
 {"data":{"name":"J"},"mark":{"type":"point","shape":"M-1,-1L1,1M-1,1L1,-1","filled":false,"color":"black","strokeWidth":1.4,"size":26,"opacity":1},"encoding":{"x":{"field":"x","type":"quantitative","scale":{"domain":[2000,5000],"nice":false},"axis":{"values":[2000,3000,4000,5000],"format":"d","title":"Volume Activation Rate (mm³ s⁻¹)"}},"y":{"field":"y","type":"quantitative","scale":{"domain":[0.6,0.9],"nice":false,"zero":false},"axis":{"values":[0.6,0.7,0.8,0.9],"format":".1f","title":"Normalised Peak dP/dt"}}}},
 {"data":{"name":"fit"},"transform":[{"filter":"datum.p==='J'"}],"mark":{"type":"line","color":"#a6a6a6","strokeWidth":1.1},"encoding":{"x":{"field":"x","type":"quantitative","scale":{"domain":[2000,5000],"nice":false},"axis":{"values":[2000,3000,4000,5000],"format":"d","title":"Volume Activation Rate (mm³ s⁻¹)"}},"y":{"field":"y","type":"quantitative","scale":{"domain":[0.6,0.9],"nice":false,"zero":false},"axis":{"values":[0.6,0.7,0.8,0.9],"format":".1f","title":"Normalised Peak dP/dt"}}}},
 {"data":{"name":"info"},"transform":[{"filter":"datum.p==='J'"}],"mark":{"type":"text","align":"left","baseline":"middle","lineBreak":"\n","lineHeight":9.5,"fontSize":9,"color":"#222"},"encoding":{"x":{"datum":2090,"type":"quantitative","scale":{"domain":[2000,5000],"nice":false},"axis":{"values":[2000,3000,4000,5000],"format":"d","title":"Volume Activation Rate (mm³ s⁻¹)"}},"y":{"datum":0.851,"type":"quantitative","scale":{"domain":[0.6,0.9],"nice":false,"zero":false},"axis":{"values":[0.6,0.7,0.8,0.9],"format":".1f","title":"Normalised Peak dP/dt"}},"text":{"field":"r2","type":"nominal"}}},
 {"data":{"name":"info"},"transform":[{"filter":"datum.p==='J'"}],"mark":{"type":"text","align":"center","baseline":"middle","dy":-10,"fontSize":8.5,"color":"#222"},"encoding":{"x":{"datum":3500,"type":"quantitative","scale":{"domain":[2000,5000],"nice":false},"axis":{"values":[2000,3000,4000,5000],"format":"d","title":"Volume Activation Rate (mm³ s⁻¹)"}},"y":{"datum":0.9,"type":"quantitative","scale":{"domain":[0.6,0.9],"nice":false,"zero":false},"axis":{"values":[0.6,0.7,0.8,0.9],"format":".1f","title":"Normalised Peak dP/dt"}},"text":{"field":"name","type":"nominal"}}}
]},
{"title":{"text":"K)"},"width":162,"height":115,"layer":[
 {"data":{"name":"K"},"mark":{"type":"point","shape":"M-1,-1L1,1M-1,1L1,-1","filled":false,"color":"black","strokeWidth":1.4,"size":26,"opacity":1},"encoding":{"x":{"field":"x","type":"quantitative","scale":{"domain":[2000,5000],"nice":false},"axis":{"values":[2000,3000,4000,5000],"format":"d","title":"Volume Activation Rate (mm³ s⁻¹)"}},"y":{"field":"y","type":"quantitative","scale":{"domain":[0.6,0.9],"nice":false,"zero":false},"axis":{"values":[0.6,0.7,0.8,0.9],"format":".1f","title":"Normalised Peak dP/dt"}}}},
 {"data":{"name":"fit"},"transform":[{"filter":"datum.p==='K'"}],"mark":{"type":"line","color":"#a6a6a6","strokeWidth":1.1},"encoding":{"x":{"field":"x","type":"quantitative","scale":{"domain":[2000,5000],"nice":false},"axis":{"values":[2000,3000,4000,5000],"format":"d","title":"Volume Activation Rate (mm³ s⁻¹)"}},"y":{"field":"y","type":"quantitative","scale":{"domain":[0.6,0.9],"nice":false,"zero":false},"axis":{"values":[0.6,0.7,0.8,0.9],"format":".1f","title":"Normalised Peak dP/dt"}}}},
 {"data":{"name":"info"},"transform":[{"filter":"datum.p==='K'"}],"mark":{"type":"text","align":"left","baseline":"middle","lineBreak":"\n","lineHeight":9.5,"fontSize":9,"color":"#222"},"encoding":{"x":{"datum":2090,"type":"quantitative","scale":{"domain":[2000,5000],"nice":false},"axis":{"values":[2000,3000,4000,5000],"format":"d","title":"Volume Activation Rate (mm³ s⁻¹)"}},"y":{"datum":0.851,"type":"quantitative","scale":{"domain":[0.6,0.9],"nice":false,"zero":false},"axis":{"values":[0.6,0.7,0.8,0.9],"format":".1f","title":"Normalised Peak dP/dt"}},"text":{"field":"r2","type":"nominal"}}},
 {"data":{"name":"info"},"transform":[{"filter":"datum.p==='K'"}],"mark":{"type":"text","align":"center","baseline":"middle","dy":-10,"fontSize":8.5,"color":"#222"},"encoding":{"x":{"datum":3500,"type":"quantitative","scale":{"domain":[2000,5000],"nice":false},"axis":{"values":[2000,3000,4000,5000],"format":"d","title":"Volume Activation Rate (mm³ s⁻¹)"}},"y":{"datum":0.9,"type":"quantitative","scale":{"domain":[0.6,0.9],"nice":false,"zero":false},"axis":{"values":[0.6,0.7,0.8,0.9],"format":".1f","title":"Normalised Peak dP/dt"}},"text":{"field":"name","type":"nominal"}}}
]},
{"title":{"text":"L)"},"width":162,"height":115,"layer":[
 {"data":{"name":"L"},"mark":{"type":"point","shape":"M-1,-1L1,1M-1,1L1,-1","filled":false,"color":"black","strokeWidth":1.4,"size":26,"opacity":1},"encoding":{"x":{"field":"x","type":"quantitative","scale":{"domain":[2000,5000],"nice":false},"axis":{"values":[2000,3000,4000,5000],"format":"d","title":"Volume Activation Rate (mm³ s⁻¹)"}},"y":{"field":"y","type":"quantitative","scale":{"domain":[0.6,0.9],"nice":false,"zero":false},"axis":{"values":[0.6,0.7,0.8,0.9],"format":".1f","title":"Normalised Peak dP/dt"}}}},
 {"data":{"name":"fit"},"transform":[{"filter":"datum.p==='L'"}],"mark":{"type":"line","color":"#a6a6a6","strokeWidth":1.1},"encoding":{"x":{"field":"x","type":"quantitative","scale":{"domain":[2000,5000],"nice":false},"axis":{"values":[2000,3000,4000,5000],"format":"d","title":"Volume Activation Rate (mm³ s⁻¹)"}},"y":{"field":"y","type":"quantitative","scale":{"domain":[0.6,0.9],"nice":false,"zero":false},"axis":{"values":[0.6,0.7,0.8,0.9],"format":".1f","title":"Normalised Peak dP/dt"}}}},
 {"data":{"name":"info"},"transform":[{"filter":"datum.p==='L'"}],"mark":{"type":"text","align":"left","baseline":"middle","lineBreak":"\n","lineHeight":9.5,"fontSize":9,"color":"#222"},"encoding":{"x":{"datum":2090,"type":"quantitative","scale":{"domain":[2000,5000],"nice":false},"axis":{"values":[2000,3000,4000,5000],"format":"d","title":"Volume Activation Rate (mm³ s⁻¹)"}},"y":{"datum":0.851,"type":"quantitative","scale":{"domain":[0.6,0.9],"nice":false,"zero":false},"axis":{"values":[0.6,0.7,0.8,0.9],"format":".1f","title":"Normalised Peak dP/dt"}},"text":{"field":"r2","type":"nominal"}}},
 {"data":{"name":"info"},"transform":[{"filter":"datum.p==='L'"}],"mark":{"type":"text","align":"center","baseline":"middle","dy":-10,"fontSize":8.5,"color":"#222"},"encoding":{"x":{"datum":3500,"type":"quantitative","scale":{"domain":[2000,5000],"nice":false},"axis":{"values":[2000,3000,4000,5000],"format":"d","title":"Volume Activation Rate (mm³ s⁻¹)"}},"y":{"datum":0.9,"type":"quantitative","scale":{"domain":[0.6,0.9],"nice":false,"zero":false},"axis":{"values":[0.6,0.7,0.8,0.9],"format":".1f","title":"Normalised Peak dP/dt"}},"text":{"field":"name","type":"nominal"}}}
]}
],
"config": {
 "font": "Liberation Sans",
 "background": "white",
 "view": {"stroke": "#3a3a3a", "strokeWidth": 0.8},
 "title": {"anchor": "start", "frame": "bounds", "fontSize": 13, "fontWeight": "normal", "color": "black", "offset": 5, "dx": -5},
 "axis": {"grid": false, "domain": false, "tickColor": "#555", "tickSize": -3, "labelFontSize": 9, "labelColor": "#222", "titleFontSize": 8.5, "titleFontWeight": "normal", "titleColor": "#222", "labelFlush": false, "labelOverlap": false},
 "axisX": {"labelPadding": 2, "titlePadding": 3},
 "axisY": {"labelPadding": 2, "titlePadding": 3}
}
}
